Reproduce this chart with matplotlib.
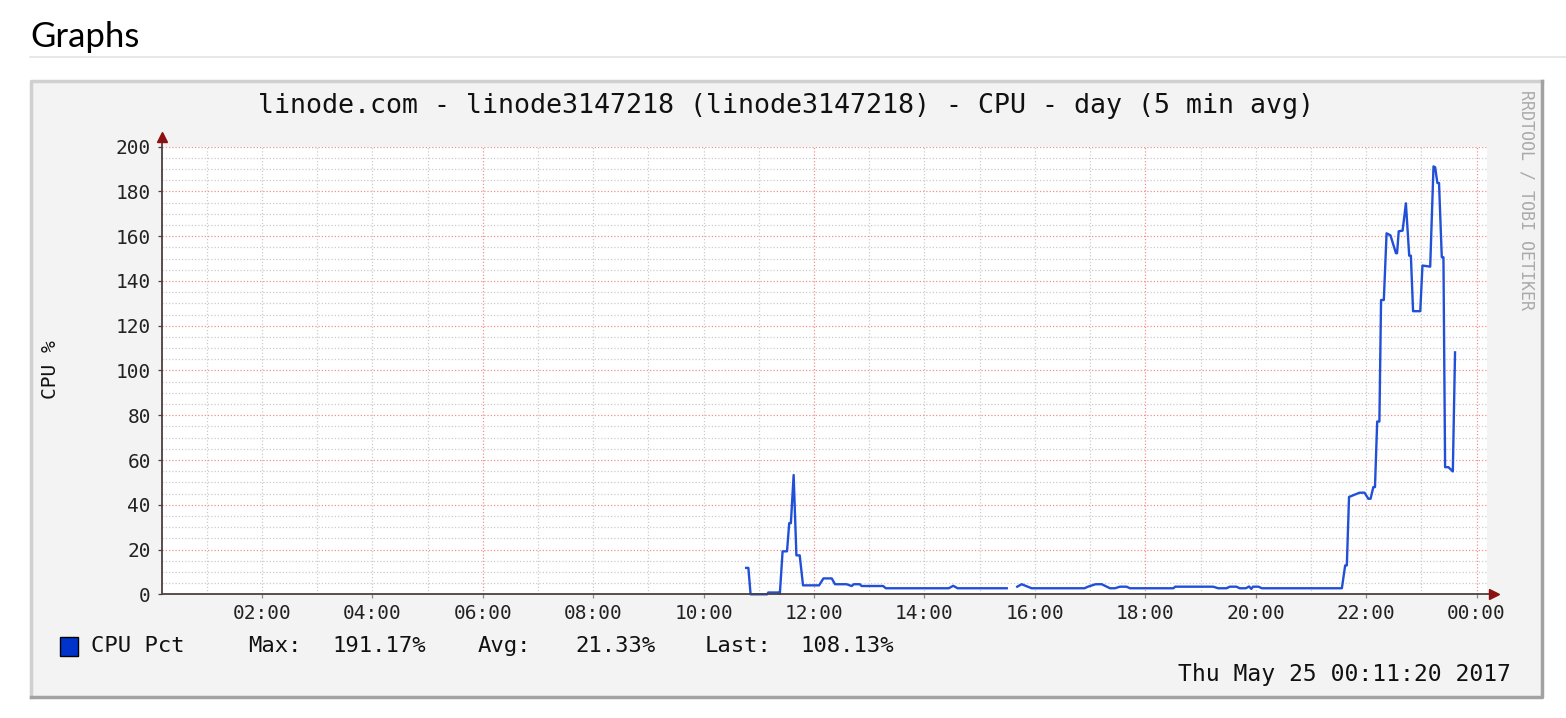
import numpy as np
import matplotlib.pyplot as plt
from matplotlib.patches import Rectangle
from matplotlib.lines import Line2D

# ================= DATA =================
# hours since midnight May 24 (decimal), CPU % read from the graph
hours = [10.77, 10.81, 10.85, 11.15, 11.17, 11.36, 11.38, 11.43, 11.51, 11.55, 11.58,
         11.63, 11.68, 11.74, 11.80, 12.09, 12.17, 12.32, 12.38, 12.59, 12.68, 12.72,
         12.83, 12.86, 13.25, 13.30, 14.44, 14.52, 14.60, 15.49,
         15.58,  # gap (no data)
         15.68, 15.76, 15.94, 16.90, 16.96, 17.10, 17.21, 17.36, 17.45, 17.54, 17.66,
         17.72, 18.51, 18.54, 19.23, 19.32, 19.47, 19.53, 19.65, 19.71, 19.82, 19.88,
         19.92, 19.95, 20.05, 20.11, 21.56, 21.62, 21.65, 21.69, 21.77, 21.88, 21.97,
         22.04, 22.08, 22.13, 22.16, 22.20, 22.24, 22.27, 22.32, 22.37, 22.44, 22.54,
         22.56, 22.59, 22.66, 22.72, 22.78, 22.81, 22.85, 22.98, 23.02, 23.16, 23.22,
         23.25, 23.29, 23.32, 23.37, 23.40, 23.43, 23.49, 23.57, 23.61]
cpu = [11.8, 11.8, 0.0, 0.0, 0.8, 0.8, 0.2, 19.2, 19.2, 31.8, 31.8,
       53.3, 17.4, 17.4, 4.0, 4.0, 7.1, 7.1, 4.5, 4.5, 3.7, 4.5,
       4.5, 3.7, 3.7, 2.7, 2.7, 3.8, 2.7, 2.7,
       np.nan,
       3.4, 4.5, 2.7, 2.7, 3.4, 4.5, 4.5, 2.7, 2.7, 3.4, 3.4,
       2.7, 2.7, 3.4, 3.4, 2.7, 2.7, 3.4, 3.4, 2.7, 2.7, 3.5,
       2.4, 3.4, 3.4, 2.7, 2.7, 12.9, 12.9, 43.5, 44.3, 45.4, 45.4,
       42.7, 42.7, 47.9, 47.9, 77.2, 77.2, 131.5, 131.5, 161.3, 160.4, 152.4,
       152.4, 162.2, 162.5, 174.7, 151.3, 151.3, 126.5, 126.5, 146.9, 146.4, 191.2,
       190.8, 183.8, 183.8, 150.6, 150.6, 56.8, 56.8, 54.9, 108.1]

x_ticks = [2, 4, 6, 8, 10, 12, 14, 16, 18, 20, 22, 24]
x_labels = ["02:00", "04:00", "06:00", "08:00", "10:00", "12:00",
            "14:00", "16:00", "18:00", "20:00", "22:00", "00:00"]
y_ticks = [0, 20, 40, 60, 80, 100, 120, 140, 160, 180, 200]

legend_names = ["Max:", "Avg:", "Last:"]
legend_values = ["191.17%", "21.33%", "108.13%"]

TITLE = "linode.com - linode3147218 (linode3147218) - CPU - day (5 min avg)"
STAMP = "Thu May 25 00:11:20 2017"
MONO = "DejaVu Sans Mono"

W, H = 1566, 718
def fx(x): return x / W
def fy(y): return 1 - y / H

fig = plt.figure(figsize=(W / 100, H / 100), dpi=100)
fig.patch.set_facecolor("white")

# ================= PAGE HEADER =================
fig.text(fx(30), fy(47), "Graphs", fontsize=25, family=["Lato", "DejaVu Sans"],
         fontweight="normal", color="black", va="baseline", ha="left")
fig.add_artist(Line2D([fx(30), 1], [fy(57), fy(57)], color="#e3e3e3", lw=1.2))

# ================= RRD FRAME =================
frame = Rectangle((fx(30), fy(698)), fx(1543 - 30), (698 - 80) / H,
                  facecolor="#f3f3f3", edgecolor="none", zorder=-5)
fig.add_artist(frame)
fig.add_artist(Line2D([fx(31), fx(31), fx(1542)], [fy(697), fy(81), fy(81)],
                      color="#d0d0d0", lw=2.5, zorder=-4))
fig.add_artist(Line2D([fx(31), fx(1542), fx(1542)], [fy(697), fy(697), fy(81)],
                      color="#a2a2a2", lw=2.5, zorder=-4))

# ================= PLOT =================
ax = fig.add_axes([fx(162), fy(594.3), (1487 - 162) / W, (594.3 - 146.7) / H])
ax.set_zorder(5)
ax.set_facecolor("white")
ax.set_xlim(0.189, 24.189)
ax.set_ylim(0, 200)

# grid: minor grey, major red
for h in range(1, 25):
    major = h % 6 == 0
    ax.axvline(h, color="#f09090" if major else "#cccccc", lw=0.9,
               ls=(0, (1, 1.6)), zorder=1)
for v in range(5, 201, 5):
    major = v % 20 == 0
    ax.axhline(v, color="#f09090" if major else "#cccccc", lw=0.9,
               ls=(0, (1, 1.6)), zorder=1)

ax.plot(hours, cpu, color="#2050d8", lw=1.7, zorder=3, clip_on=False)

for s in ax.spines.values():
    s.set_visible(False)
ax.plot([0, 0], [0, 1.015], transform=ax.transAxes, color="#4a4040", lw=1.3,
        clip_on=False, zorder=4)
ax.plot([0, 1.004], [0, 0], transform=ax.transAxes, color="#4a4040", lw=1.3,
        clip_on=False, zorder=4)
ax.plot([0], [1.022], transform=ax.transAxes, marker="^", ms=7, color="#8b1010",
        clip_on=False, zorder=5)
ax.plot([1.0055], [0], transform=ax.transAxes, marker=">", ms=7, color="#8b1010",
        clip_on=False, zorder=5)

ax.set_xticks(x_ticks)
ax.set_xticklabels(x_labels, family=MONO, fontsize=14, color="#222222")
ax.set_yticks(y_ticks)
ax.set_yticklabels([str(v) for v in y_ticks], family=MONO, fontsize=14, color="#222222")
ax.tick_params(axis="x", direction="out", length=3, width=0.9, color="#888888", pad=4)
ax.tick_params(axis="y", direction="out", length=3, width=0.9, color="#4a4040", pad=5)

fig.text(fx(50), fy(370), "CPU %", family=MONO, fontsize=14, rotation=90,
         ha="center", va="center", color="#111111")
fig.text(fx(786), fy(106), TITLE, family=MONO, fontsize=19.2, ha="center",
         va="center", color="#111111")
fig.text(fx(1527), fy(200), "RRDTOOL / TOBI OETIKER", family=MONO, fontsize=12,
         rotation=270, ha="center", va="center", color="#aaaaaa")

# ================= LEGEND =================
fig.add_artist(Rectangle((fx(60), fy(656)), fx(18), 19 / H, facecolor="#0033cc",
                         edgecolor="black", lw=1))
fig.text(fx(91), fy(646), "CPU Pct", family=MONO, fontsize=16, va="center", color="#111111")
name_x = [248, 478, 705]
value_x = [332, 575, 800]
for nm, val, nx, vx in zip(legend_names, legend_values, name_x, value_x):
    fig.text(fx(nx), fy(646), nm, family=MONO, fontsize=16, va="center", color="#111111")
    fig.text(fx(vx), fy(646), val, family=MONO, fontsize=16, va="center", color="#111111")

fig.text(fx(1511), fy(675), STAMP, family=MONO, fontsize=16.6, ha="right",
         va="center", color="#111111")

plt.savefig("out.png", dpi=100)
